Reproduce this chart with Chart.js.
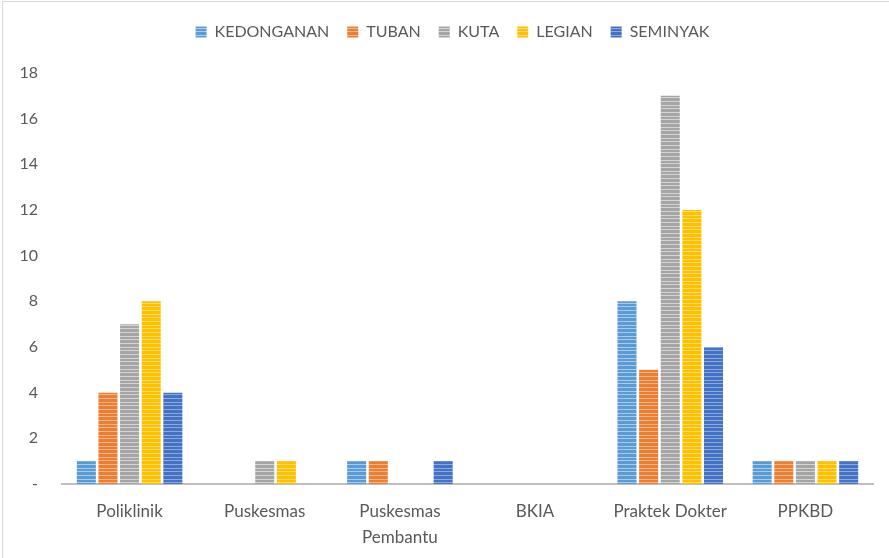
<!DOCTYPE html>
<html>
<head>
<meta charset="utf-8">
<script src="https://cdn.jsdelivr.net/npm/chart.js@4"></script>
<style>
  html, body { margin: 0; padding: 0; background: #fff; }
  #wrap { position: absolute; left: 2px; top: 1px; width: 887px; height: 557px;
          border-left: 1px solid #d9d9d9; border-top: 1px solid #d9d9d9; }
  canvas { position: absolute; left: -3px; top: -2px; }
</style>
</head>
<body>
<div id="wrap"><canvas id="chart" width="889" height="558"></canvas></div>
<script>
const categories = ["Poliklinik", "Puskesmas", ["Puskesmas", "Pembantu"], "BKIA", "Praktek Dokter", "PPKBD"];
const kedonganan = [1, 0, 1, 0, 8, 1];
const tuban = [4, 0, 1, 0, 5, 1];
const kuta = [7, 1, 0, 0, 17, 1];
const legian = [8, 1, 0, 0, 12, 1];
const seminyak = [4, 0, 1, 0, 6, 1];
const yTicks = [0, 2, 4, 6, 8, 10, 12, 14, 16, 18];

// textura bergaris seperti di gambar asli
function stripes(base, light) {
  const c = document.createElement("canvas");
  c.width = 4;
  c.height = 11;
  const g = c.getContext("2d");
  g.fillStyle = base;
  g.fillRect(0, 0, 4, 11);
  g.fillStyle = light;
  g.fillRect(0, 2, 4, 1);
  g.fillRect(0, 6, 4, 1);
  g.fillRect(0, 9, 4, 1);
  return g.createPattern(c, "repeat");
}

// jarak tambahan di bawah legenda, dan geser legenda sedikit ke kanan
const legendGap = {
  id: "legendGap",
  afterInit(chart) {
    const fit = chart.legend.fit;
    chart.legend.fit = function () {
      fit.call(this);
      this.height += 23;
    };
  },
  afterLayout(chart) {
    chart.legend.left += 32;
  },
};

const ctx = document.getElementById("chart").getContext("2d");

const chart = new Chart(ctx, {
  type: "bar",
  data: {
    labels: categories,
    datasets: [
      { label: "KEDONGANAN", data: kedonganan, backgroundColor: stripes("#5b9bd5", "#a9cbec") },
      { label: "TUBAN", data: tuban, backgroundColor: stripes("#ed7d31", "#f6b98f") },
      { label: "KUTA", data: kuta, backgroundColor: stripes("#a5a5a5", "#d4d4d4") },
      { label: "LEGIAN", data: legian, backgroundColor: stripes("#ffc000", "#ffdc70") },
      { label: "SEMINYAK", data: seminyak, backgroundColor: stripes("#4472c4", "#8fa9dd") },
    ],
  },
  plugins: [legendGap],
  options: {
    responsive: false,
    animation: false,
    layout: { padding: { left: 0, right: 16, top: 6, bottom: 2 } },
    datasets: { bar: { barPercentage: 0.88, categoryPercentage: 0.8 } },
    plugins: {
      tooltip: { enabled: false },
      legend: {
        position: "top",
        labels: {
          boxWidth: 11,
          boxHeight: 11,
          padding: 18,
          color: "#595959",
          font: { family: "Lato", size: 16 },
        },
      },
    },
    scales: {
      x: {
        afterFit: (axis) => { axis.height = 72; },
        grid: { display: false, drawTicks: false },
        border: { display: true, color: "#bfbfbf", width: 2 },
        ticks: { color: "#595959", font: { family: "Lato", size: 17, lineHeight: 1.55 }, padding: 14 },
      },
      y: {
        min: 0,
        max: 18,
        afterBuildTicks: (axis) => { axis.ticks = yTicks.map((v) => ({ value: v })); },
        afterFit: (axis) => { axis.width = 62; },
        grid: { display: false, drawTicks: false },
        border: { display: false },
        ticks: {
          color: "#595959",
          font: { family: "Lato", size: 16 },
          padding: 24,
          callback: (v) => (v === 0 ? "-" : v),
        },
      },
    },
  },
});
</script>
</body>
</html>
